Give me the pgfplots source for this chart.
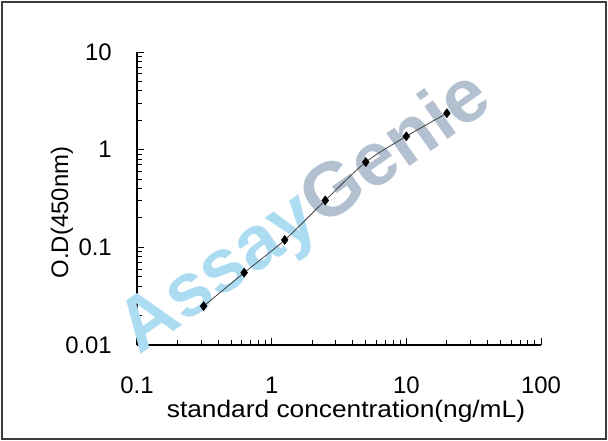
\documentclass[border=0pt]{standalone}
\usepackage{pgfplots}
\pgfplotsset{compat=1.18}
\usepackage{fontspec}
\setmainfont{Liberation Sans}
\definecolor{wmblue}{RGB}{172,220,242}
\definecolor{wmgray}{RGB}{178,192,208}
\definecolor{framegray}{RGB}{60,60,60}
\begin{document}
\begin{tikzpicture}
\begin{axis}[
  at={(0,0)}, anchor=south west,
  scale only axis, width=404bp, height=293bp,
  xmode=log, ymode=log,
  xmin=0.1, xmax=100, ymin=0.01, ymax=10,
  axis lines=left, axis line style={-, line width=1.3pt, black},
  tick align=inside,
  major tick length=7bp, minor tick length=5bp,
  tick style={black, line width=1pt},
  log ticks with fixed point,
  /pgf/number format/assume math mode=true,
  ticklabel style={font=\fontsize{24}{26}\selectfont},
  xtick={0.1,1,10,100}, ytick={0.01,0.1,1,10},
  xticklabel style={anchor=base, yshift=-48bp, inner sep=0pt},
  yticklabel style={anchor=east, xshift=-25bp, inner sep=0pt},
  xlabel={\scalebox{1.1}[1]{standard concentration(ng/mL)}},
  ylabel={O.D(450nm)},
  label style={font=\fontsize{24}{26}\selectfont},
  xlabel style={at={(rel axis cs:0.5,0)}, anchor=center, yshift=-66bp, xshift=7bp},
  ylabel style={at={(rel axis cs:0,0.5)}, anchor=center, yshift=75bp, xshift=-14bp},
  clip=false,
]
\node[rotate=35, font=\fontsize{76}{80}\selectfont\bfseries, inner sep=0pt] at (axis cs:1.8,0.215)
  {\textcolor{wmblue}{Assay}\textcolor{wmgray}{Genie}};
\addplot[smooth, color=black!75, line width=0.8pt, mark=diamond*, mark size=4.5pt,
  mark options={fill=black, draw=black, line width=0.6pt}]
  coordinates {
  (0.3125,0.025) (0.625,0.055) (1.25,0.119) (2.5,0.302) (5,0.746) (10,1.37) (20,2.36)
  };
\end{axis}
\pgfresetboundingbox
\draw[framegray, line width=2bp] (-135bp,-94bp) rectangle (469bp,343bp);
\useasboundingbox (-137bp,-96bp) rectangle (471bp,345bp);
\end{tikzpicture}
\end{document}
